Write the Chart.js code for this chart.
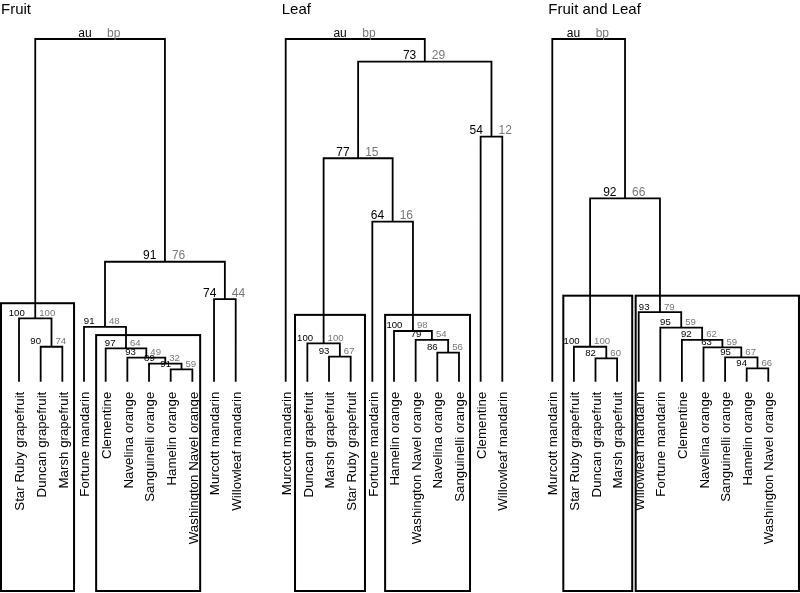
<!DOCTYPE html>
<html>
<head>
<meta charset="utf-8">
<script src="https://cdn.jsdelivr.net/npm/chart.js@4.4.1/dist/chart.umd.min.js"></script>
<style>
  html, body { margin: 0; padding: 0; background: #fff; }
  #wrap { position: relative; width: 800px; height: 593px; overflow: hidden; }
  canvas { position: absolute; top: 0; }
</style>
</head>
<body>
<div id="wrap">
  <canvas id="fruit" width="266" height="593" style="left:0px"></canvas>
  <canvas id="leaf" width="264" height="593" style="left:266px"></canvas>
  <canvas id="both" width="270" height="593" style="left:530px"></canvas>
</div>
<script>
// merges work like hclust: negative = leaf (1-based), positive = earlier merge row
// heights are relative to the root (root = 1)

const fruitLeaves = ['Star Ruby grapefruit', 'Duncan grapefruit', 'Marsh grapefruit', 'Fortune mandarin',
  'Clementine', 'Navelina orange', 'Sanguinelli orange', 'Hamelin orange', 'Washington Navel orange',
  'Murcott mandarin', 'Willowleaf mandarin'];
const fruitMerge = [[-8, -9], [-7, 1], [-6, 2], [-5, 3], [-2, -3], [-4, 4], [-1, 5], [-10, -11], [6, 8], [7, 9]];
const fruitHeight = [0.036, 0.053, 0.070, 0.097, 0.102, 0.160, 0.185, 0.241, 0.350, 1];
const fruitAu = ['91', '89', '93', '97', '90', '91', '100', '74', '91', 'au'];
const fruitBp = ['59', '32', '49', '64', '74', '48', '100', '44', '76', 'bp'];
const fruitBoxes = [[-0.83, 2.54, 0.229], [3.56, 8.36, 0.136]]; // from, to (leaf axis), top (height axis)

const leafLeaves = ['Murcott mandarin', 'Duncan grapefruit', 'Marsh grapefruit', 'Star Ruby grapefruit',
  'Fortune mandarin', 'Hamelin orange', 'Washington Navel orange', 'Navelina orange', 'Sanguinelli orange',
  'Clementine', 'Willowleaf mandarin'];
const leafMerge = [[-3, -4], [-8, -9], [-2, 1], [-7, 2], [-6, 4], [-5, 5], [3, 6], [-10, -11], [7, 8], [-1, 9]];
const leafHeight = [0.073, 0.085, 0.112, 0.122, 0.148, 0.467, 0.652, 0.715, 0.934, 1];
const leafAu = ['93', '86', '100', '79', '100', '64', '77', '54', '73', 'au'];
const leafBp = ['67', '56', '100', '54', '98', '16', '15', '12', '29', 'bp'];
const leafBoxes = [[0.43, 3.66, 0.195], [4.59, 8.51, 0.195]];

const bothLeaves = ['Murcott mandarin', 'Star Ruby grapefruit', 'Duncan grapefruit', 'Marsh grapefruit',
  'Willowleaf mandarin', 'Fortune mandarin', 'Clementine', 'Navelina orange', 'Sanguinelli orange',
  'Hamelin orange', 'Washington Navel orange'];
const bothMerge = [[-10, -11], [-3, -4], [-9, 1], [-8, 3], [-2, 2], [-7, 4], [-6, 6], [-5, 7], [5, 8], [-1, 9]];
const bothHeight = [0.039, 0.068, 0.071, 0.100, 0.102, 0.122, 0.158, 0.203, 0.535, 1];
const bothAu = ['94', '82', '95', '63', '100', '92', '95', '93', '92', 'au'];
const bothBp = ['66', '60', '67', '59', '100', '62', '59', '79', '66', 'bp'];
const bothBoxes = [[0.51, 3.70, 0.251], [3.86, 11.42, 0.251]];

const FONT = '"Liberation Sans", Arial, Helvetica, sans-serif';

// x of every merge = middle of its two children
function nodePositions(merge) {
  const xs = [];
  merge.forEach(([a, b]) => {
    const xa = a < 0 ? -a - 1 : xs[a - 1];
    const xb = b < 0 ? -b - 1 : xs[b - 1];
    xs.push((xa + xb) / 2);
  });
  return xs;
}

function segments(merge, height, xs) {
  const pts = [];
  const child = (c) => c < 0 ? { x: -c - 1, h: 0 } : { x: xs[c - 1], h: height[c - 1] };
  merge.forEach(([a, b], i) => {
    const ca = child(a), cb = child(b);
    pts.push({ x: ca.x, y: ca.h }, { x: ca.x, y: height[i] }, { x: cb.x, y: height[i] }, { x: cb.x, y: cb.h });
    pts.push({ x: cb.x, y: null });
  });
  return pts;
}

const annotate = {
  id: 'annotate',
  afterDraw(chart, args, p) {
    const { ctx } = chart;
    const x = chart.scales.x, y = chart.scales.y;
    ctx.save();

    ctx.fillStyle = '#000';
    ctx.font = '15px ' + FONT;
    ctx.textAlign = 'left';
    ctx.textBaseline = 'alphabetic';
    ctx.fillText(p.title, p.titleX, 13.5);

    // significant clusters
    ctx.strokeStyle = '#000';
    ctx.lineWidth = 2;
    p.boxes.forEach(([a, b, t]) => {
      const l = x.getPixelForValue(a), r = x.getPixelForValue(b), top = y.getPixelForValue(t);
      ctx.strokeRect(l, top, r - l, chart.height - 2 - top);
    });

    // leaf names
    ctx.font = '13.3px ' + FONT;
    ctx.fillStyle = '#000';
    p.leaves.forEach((name, i) => {
      ctx.save();
      ctx.translate(x.getPixelForValue(i), y.getPixelForValue(0) + 10);
      ctx.rotate(-Math.PI / 2);
      ctx.textAlign = 'right';
      ctx.textBaseline = 'middle';
      ctx.fillText(name, 0, 1.5);
      ctx.restore();
    });

    // au / bp values
    ctx.textBaseline = 'alphabetic';
    p.xs.forEach((nx, i) => {
      const px = x.getPixelForValue(nx), py = y.getPixelForValue(p.height[i]) - 2.5;
      const small = p.height[i] < 0.22;
      ctx.font = (small ? '9.6px ' : '12px ') + FONT;
      ctx.textAlign = 'right';
      ctx.fillStyle = '#000';
      ctx.fillText(p.au[i], px - (small ? 10.5 : 8.5), py);
      ctx.textAlign = 'left';
      ctx.fillStyle = '#777';
      ctx.fillText(p.bp[i], px + (small ? 4 : 7), py);
    });
    ctx.restore();
  }
};

function dendrogram(id, title, titleX, padL, padR, leaves, merge, height, au, bp, boxes) {
  const xs = nodePositions(merge);
  return new Chart(document.getElementById(id), {
    type: 'line',
    data: {
      datasets: [{
        data: segments(merge, height, xs),
        borderColor: '#000',
        borderWidth: 1.8,
        pointRadius: 0,
        tension: 0,
        spanGaps: false,
        clip: false
      }]
    },
    options: {
      responsive: false,
      animation: false,
      events: [],
      layout: { padding: { left: padL, right: padR, top: 39, bottom: 211.3 } },
      scales: {
        x: { type: 'linear', min: 0, max: leaves.length - 1, display: false },
        y: { type: 'linear', min: 0, max: 1, display: false }
      },
      plugins: {
        legend: { display: false },
        tooltip: { enabled: false },
        annotate: { title, titleX, leaves, xs, height, au, bp, boxes }
      }
    },
    plugins: [annotate]
  });
}

dendrogram('fruit', 'Fruit', 1, 19, 30.3, fruitLeaves, fruitMerge, fruitHeight, fruitAu, fruitBp, fruitBoxes);
dendrogram('leaf', 'Leaf', 15.7, 19.7, 27.7, leafLeaves, leafMerge, leafHeight, leafAu, leafBp, leafBoxes);
dendrogram('both', 'Fruit and Leaf', 18.3, 22.3, 31.7, bothLeaves, bothMerge, bothHeight, bothAu, bothBp, bothBoxes);
</script>
</body>
</html>
